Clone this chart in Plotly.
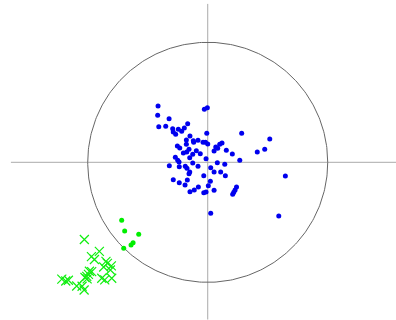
import numpy as np
import plotly.graph_objects as go

# Score coordinates (unit circle = radius 1)
blue_x = [-0.414, -0.417, -0.408, -0.350, -0.322, -0.292, -0.287, -0.267, -0.245, -0.217,
          -0.195, -0.167, -0.028, -0.003, -0.008, -0.148, -0.178, -0.120, -0.117, -0.081,
          -0.039, 0.000, -0.253, -0.233, -0.178, -0.156, -0.175, -0.203, -0.125, -0.095,
          -0.062, -0.150, -0.014, 0.053, 0.067, 0.083, 0.100, 0.119, 0.155, 0.205,
          0.267, 0.283, 0.413, 0.475, 0.517, -0.270, -0.250, -0.239, -0.320, -0.237,
          -0.187, -0.173, -0.150, -0.156, -0.081, 0.025, 0.053, 0.080, 0.108, 0.142,
          0.147, 0.647, -0.287, -0.237, -0.189, -0.170, -0.033, 0.022, 0.005, -0.078,
          -0.112, -0.148, -0.033, -0.014, 0.053, 0.240, 0.228, 0.217, 0.208, 0.025,
          0.592, -0.125, -0.019]
blue_y = [0.469, 0.392, 0.297, 0.300, 0.364, 0.280, 0.253, 0.233, 0.275, 0.258,
          0.286, 0.322, 0.442, 0.455, 0.242, 0.219, 0.186, 0.180, 0.167, 0.183,
          0.167, 0.153, 0.136, 0.119, 0.150, 0.108, 0.086, 0.078, 0.067, 0.097,
          0.072, 0.039, 0.030, 0.094, 0.128, 0.117, 0.150, 0.161, 0.100, 0.069,
          0.017, 0.242, 0.086, 0.108, 0.194, 0.042, 0.017, 0.003, -0.028, -0.037,
          -0.033, -0.050, -0.081, -0.095, -0.033, -0.045, -0.081, -0.003, -0.081, -0.017,
          -0.112, -0.114, -0.145, -0.170, -0.189, -0.148, -0.112, -0.158, -0.195, -0.206,
          -0.231, -0.245, -0.253, -0.248, -0.233, -0.206, -0.231, -0.250, -0.267, -0.425,
          -0.447, -0.005, 0.167]

green_dot_x = [-0.717, -0.692, -0.575, -0.622, -0.639, -0.700]
green_dot_y = [-0.483, -0.572, -0.600, -0.670, -0.689, -0.717]

green_x_x = [-1.028, -0.903, -0.969, -0.944, -0.848, -0.836, -0.867, -0.803, -0.811, -0.967,
             -0.994, -1.008, -1.023, -1.005, -0.883, -0.858, -0.800, -1.216, -1.183, -1.161,
             -1.092, -1.047, -1.030, -0.986]
green_x_y = [-0.643, -0.742, -0.786, -0.810, -0.825, -0.842, -0.872, -0.863, -0.897, -0.911,
             -0.934, -0.950, -0.960, -0.971, -0.966, -0.979, -0.966, -0.974, -0.989, -0.983,
             -1.031, -1.033, -1.064, -0.908]

fig = go.Figure()

# Unit correlation circle
t = np.linspace(0, 2 * np.pi, 361)
fig.add_trace(go.Scatter(x=np.cos(t), y=np.sin(t), mode="lines",
                         line=dict(color="#666666", width=1), hoverinfo="skip"))

fig.add_trace(go.Scatter(x=blue_x, y=blue_y, mode="markers",
                         marker=dict(color="#0000ee", size=5)))
fig.add_trace(go.Scatter(x=green_dot_x, y=green_dot_y, mode="markers",
                         marker=dict(color="#00ee00", size=5)))
fig.add_trace(go.Scatter(x=green_x_x, y=green_x_y, mode="markers",
                         marker=dict(symbol="x-thin", size=9,
                                     line=dict(color="#11ee11", width=1.2))))

# Cross-hair axes through the origin
fig.add_shape(type="line", x0=-1.64, x1=1.57, y0=0, y1=0,
              line=dict(color="#aaaaaa", width=1), layer="below")
fig.add_shape(type="line", x0=0, x1=0, y0=-1.31, y1=1.32,
              line=dict(color="#aaaaaa", width=1), layer="below")

fig.update_layout(
    width=396, height=320,
    margin=dict(l=0, r=0, t=0, b=0),
    paper_bgcolor="white", plot_bgcolor="white",
    showlegend=False,
    xaxis=dict(range=[-1.731, 1.569], visible=False, fixedrange=True),
    yaxis=dict(range=[-1.314, 1.3525], visible=False, fixedrange=True),
)

fig.write_html("out.html")
